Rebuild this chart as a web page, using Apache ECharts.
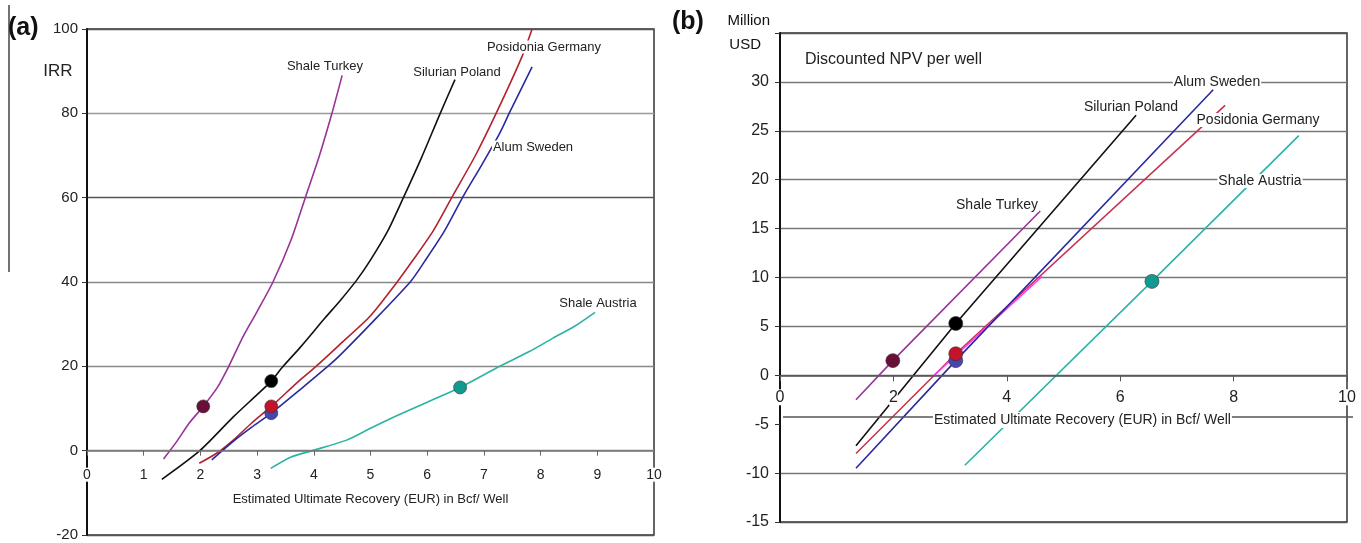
<!DOCTYPE html>
<html>
<head>
<meta charset="utf-8">
<script src="https://cdn.jsdelivr.net/npm/echarts@6/dist/echarts.min.js"></script>
<style>
  html, body { margin: 0; padding: 0; background: #fff; }
  #chart { width: 1361px; height: 543px; }
</style>
</head>
<body>
<div id="chart"></div>
<script>
// ---- Panel (a): IRR (%) vs EUR (Bcf/well) ----
const irrTurkey   = [[1.35,-2],[1.6,2.5],[1.8,6.5],[2.05,10.5],[2.3,15],[2.5,20],[2.75,27],[3.0,33],[3.28,40],[3.6,50],[3.85,60],[4.1,70],[4.32,80],[4.5,89]];
const irrPoland   = [[1.32,-6.8],[1.99,0],[2.58,8],[3.0,13.3],[3.25,16.5],[3.46,20],[3.76,24.5],[4.2,31.5],[4.46,35.5],[4.76,40.5],[4.99,45],[5.3,52],[5.58,60],[5.9,69.5],[6.23,80],[6.49,88]];
const irrGermany  = [[1.98,-3],[2.3,-0.5],[2.58,2.5],[2.9,6.5],[3.25,10.5],[3.76,16.8],[4.04,20],[4.46,25.2],[5.0,32],[5.47,40],[5.75,45.2],[6.1,52],[6.44,60.2],[6.85,70],[7.23,80.4],[7.67,93.4],[7.85,100]];
const irrSweden   = [[2.2,-2.2],[2.58,2.2],[2.9,5.5],[3.25,8.9],[3.76,14.5],[4.23,19.8],[4.46,22.6],[5.0,30],[5.7,40],[5.96,45],[6.3,52],[6.63,60.2],[6.95,67.5],[7.28,75.3],[7.46,80.4],[7.85,91]];
const irrAustria  = [[3.24,-4.2],[3.6,-1.5],[3.97,0],[4.58,2.5],[5.0,5.3],[5.5,8.5],[6.0,11.5],[6.58,15],[7.28,20],[7.8,23.5],[8.22,26.7],[8.6,29.5],[8.96,32.8]];
// base-case points
const irrBaseTurkey  = [[2.05,10.5]];
const irrBasePoland  = [[3.25,16.5]];
const irrBaseSweden  = [[3.25,8.9]];
const irrBaseGermany = [[3.25,10.5]];
const irrBaseAustria = [[6.58,15]];

// ---- Panel (b): discounted NPV per well (million USD) vs EUR ----
const npvTurkey   = [[1.34,-2.5],[1.99,1.5],[4.59,16.8]];
const npvPoland   = [[1.34,-7.2],[3.10,5.3],[6.28,26.6]];
const npvGermany  = [[1.34,-8.0],[3.10,2.2],[7.85,27.6]];
const npvGermanyHi = [[2.7,-0.1],[4.62,10.1]];
const npvSweden   = [[1.34,-9.5],[3.10,1.5],[7.64,29.2]];
const npvAustria  = [[3.26,-9.2],[6.56,9.6],[9.15,24.5]];
const npvBaseTurkey  = [[1.99,1.5]];
const npvBasePoland  = [[3.10,5.3]];
const npvBaseSweden  = [[3.10,1.5]];
const npvBaseGermany = [[3.10,2.2]];
const npvBaseAustria = [[6.56,9.6]];

// axis ranges
const irrRange = { min: -20, max: 100, step: 20 };
const npvRange = { min: -15, max: 35, step: 5 };

const FONT = '"Liberation Sans", Arial, sans-serif';
const C = {
  turkey: '#993399', poland: '#111111', germany: '#b2222f', germanyB: '#c8334f',
  sweden: '#2a2aa0', austria: '#2bb3a5', hi: '#ff33ff',
  dTurkey: '#6a1036', dPoland: '#000000', dGermany: '#c4142c', dSweden: '#4646b0', dAustria: '#129a90'
};

const grids = [
  { left: 87, top: 29, width: 567, height: 506 },
  { left: 780, top: 33, width: 567, height: 489 }
];
// distance from the grid's bottom edge up to the value 0, so the EUR axis sits on y = 0
function zeroOffset(g, r) {
  return -(g.height * (0 - r.min) / (r.max - r.min));
}

function line(data, color, g, smooth) {
  return { type: 'line', data, xAxisIndex: g, yAxisIndex: g, showSymbol: false,
    smooth: smooth ? 0.25 : false,
    lineStyle: { color, width: 1.6 }, itemStyle: { color }, z: 3, silent: true };
}
function dot(data, color, g) {
  return { type: 'scatter', data, xAxisIndex: g, yAxisIndex: g, symbol: 'circle',
    symbolSize: g === 0 ? 13 : 14,
    itemStyle: { color, opacity: 1, borderColor: '#333', borderWidth: 0.6 }, z: 4, silent: true };
}
function label(text, x, y, size) {
  return { type: 'text', x, y, z: 100, silent: true,
    style: { text, fontSize: size, fontFamily: FONT, fill: '#222', align: 'center',
      verticalAlign: 'middle', backgroundColor: '#fff', padding: [0, 1] } };
}

const leftGridColors = ['#555', '#888', '#888', '#888', '#555', '#999', '#555'];
// -5 line on panel (b) is drawn separately, running through the axis title
const rightGridColors = ['#555', '#777', 'rgba(0,0,0,0)', '#666', '#777', '#777', '#777', '#777', '#777', '#777', '#555'];

const option = {
  animation: false,
  backgroundColor: '#fff',
  textStyle: { fontFamily: FONT },
  grid: grids.map(g => Object.assign({ show: true, borderColor: '#333', borderWidth: 1.5,
    containLabel: false, outerBoundsMode: 'none' }, g)),
  xAxis: [
    { gridIndex: 0, type: 'value', min: 0, max: 10, interval: 1, z: 5, position: 'bottom',
      offset: zeroOffset(grids[0], irrRange),
      axisLine: { onZero: false, lineStyle: { color: '#777', width: 1.5 } },
      axisTick: { show: true, length: 5, lineStyle: { color: '#666' } },
      axisLabel: { margin: 17, fontSize: 14, color: '#222', fontFamily: FONT, backgroundColor: '#fff' },
      splitLine: { show: false },
      name: 'Estimated Ultimate Recovery (EUR) in Bcf/ Well', nameLocation: 'middle', nameGap: 42,
      nameTextStyle: { fontSize: 13, color: '#222', fontFamily: FONT } },
    { gridIndex: 1, type: 'value', min: 0, max: 10, interval: 2, z: 5, position: 'bottom',
      offset: zeroOffset(grids[1], npvRange),
      axisLine: { onZero: false, lineStyle: { color: '#555', width: 1.5 } },
      axisTick: { show: true, length: 6, lineStyle: { color: '#555' } },
      axisLabel: { margin: 14, fontSize: 16, color: '#222', fontFamily: FONT, backgroundColor: '#fff' },
      splitLine: { show: false } }
  ],
  yAxis: [
    { gridIndex: 0, type: 'value', min: irrRange.min, max: irrRange.max, interval: irrRange.step,
      axisLine: { show: true, lineStyle: { color: '#111', width: 2 } },
      axisTick: { show: true, length: 5, lineStyle: { color: '#333' } },
      axisLabel: { margin: 9, fontSize: 15, color: '#222', fontFamily: FONT },
      splitLine: { show: true, lineStyle: { color: leftGridColors, width: 1.4 } } },
    { gridIndex: 1, type: 'value', min: npvRange.min, max: npvRange.max, interval: npvRange.step,
      axisLine: { show: true, lineStyle: { color: '#111', width: 2 } },
      axisTick: { show: true, length: 5, lineStyle: { color: '#333' } },
      axisLabel: { margin: 11, fontSize: 16, color: '#222', fontFamily: FONT,
        formatter: v => (v === 35 ? '' : String(v)) },
      splitLine: { show: true, lineStyle: { color: rightGridColors, width: 1.4 } } }
  ],
  series: [
    line(irrTurkey, C.turkey, 0, true),
    line(irrPoland, C.poland, 0, true),
    line(irrGermany, C.germany, 0, true),
    line(irrSweden, C.sweden, 0, true),
    line(irrAustria, C.austria, 0, true),
    dot(irrBaseTurkey, C.dTurkey, 0),
    dot(irrBasePoland, C.dPoland, 0),
    dot(irrBaseSweden, C.dSweden, 0),
    dot(irrBaseGermany, C.dGermany, 0),
    dot(irrBaseAustria, C.dAustria, 0),

    line(npvTurkey, C.turkey, 1, false),
    line(npvPoland, C.poland, 1, false),
    line(npvGermany, C.germanyB, 1, false),
    line(npvGermanyHi, C.hi, 1, false),
    line(npvSweden, C.sweden, 1, false),
    line(npvAustria, C.austria, 1, false),
    dot(npvBaseTurkey, C.dTurkey, 1),
    dot(npvBasePoland, C.dPoland, 1),
    dot(npvBaseSweden, C.dSweden, 1),
    dot(npvBaseGermany, C.dGermany, 1),
    dot(npvBaseAustria, C.dAustria, 1)
  ],
  graphic: [
    { type: 'line', z: 100, silent: true, shape: { x1: 9, y1: 5, x2: 9, y2: 272 },
      style: { stroke: '#444', lineWidth: 1.5 } },
    { type: 'text', x: 8, y: 28, z: 100, silent: true,
      style: { text: '(a)', fontSize: 25, fontWeight: 'bold', fontFamily: FONT, fill: '#111', align: 'left', verticalAlign: 'middle' } },
    { type: 'text', x: 58, y: 71, z: 100, silent: true,
      style: { text: 'IRR', fontSize: 17, fontFamily: FONT, fill: '#222', align: 'center', verticalAlign: 'middle' } },
    label('Shale Turkey', 325, 66, 13),
    label('Silurian Poland', 457, 72, 13),
    label('Posidonia Germany', 544, 47, 13),
    label('Alum Sweden', 533, 147, 13),
    label('Shale Austria', 598, 303, 13),

    { type: 'text', x: 672, y: 22, z: 100, silent: true,
      style: { text: '(b)', fontSize: 25, fontWeight: 'bold', fontFamily: FONT, fill: '#111', align: 'left', verticalAlign: 'middle' } },
    { type: 'text', x: 770, y: 21, z: 100, silent: true,
      style: { text: 'Million', fontSize: 15, fontFamily: FONT, fill: '#111', align: 'right', verticalAlign: 'middle' } },
    { type: 'text', x: 761, y: 45, z: 100, silent: true,
      style: { text: 'USD', fontSize: 15, fontFamily: FONT, fill: '#111', align: 'right', verticalAlign: 'middle' } },
    { type: 'text', x: 805, y: 60, z: 100, silent: true,
      style: { text: 'Discounted NPV per well', fontSize: 16, fontFamily: FONT, fill: '#222', align: 'left', verticalAlign: 'middle' } },
    label('Alum Sweden', 1217, 82, 14),
    label('Silurian Poland', 1131, 107, 14),
    label('Posidonia Germany', 1258, 120, 14),
    label('Shale Austria', 1260, 181, 14),
    label('Shale Turkey', 997, 205, 14),
    { type: 'line', z: 50, silent: true, shape: { x1: 783, y1: 417, x2: 1353, y2: 417 },
      style: { stroke: '#555', lineWidth: 1.4 } },
    { type: 'text', x: 933, y: 420, z: 100, silent: true,
      style: { text: 'Estimated Ultimate Recovery (EUR) in Bcf/ Well', fontSize: 14, fontFamily: FONT, fill: '#222',
        align: 'left', verticalAlign: 'middle', backgroundColor: '#fff', padding: [1, 1] } }
  ]
};

const chart = echarts.init(document.getElementById('chart'), null, { renderer: 'canvas' });
chart.setOption(option);
</script>
</body>
</html>
